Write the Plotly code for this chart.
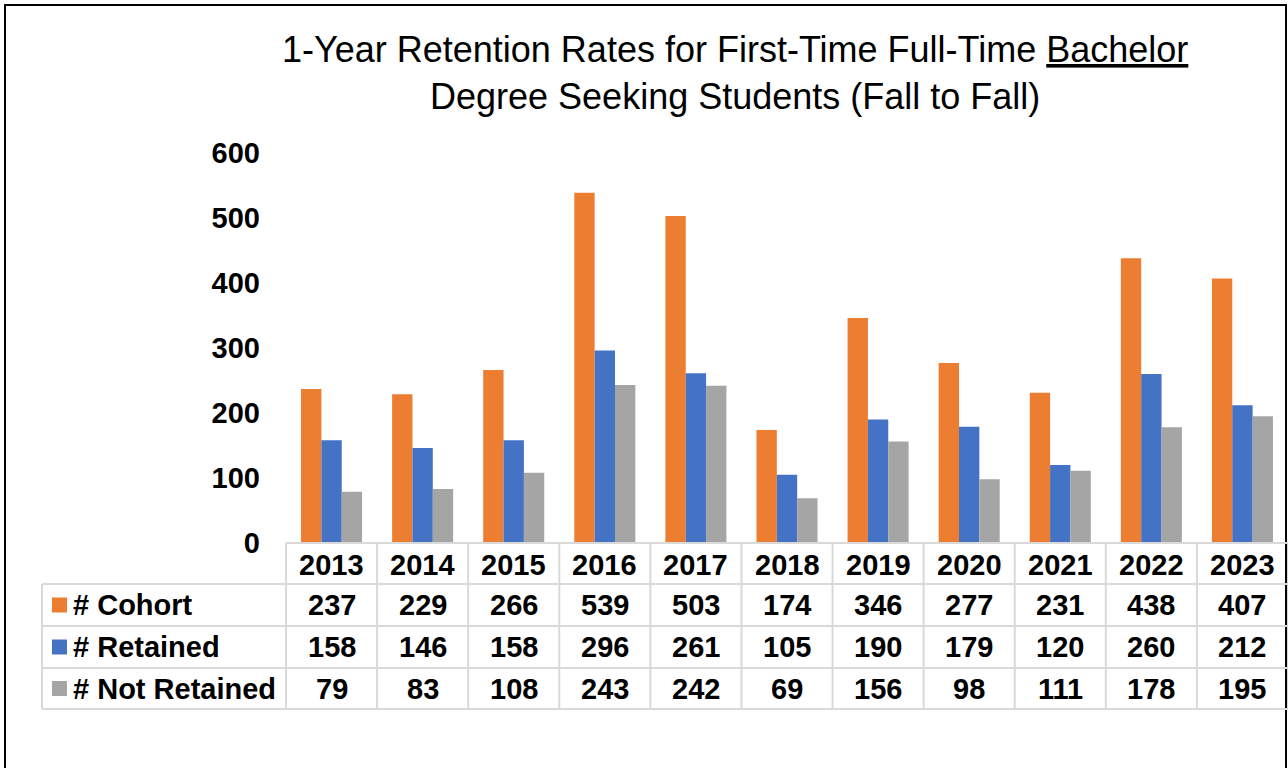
import plotly.graph_objects as go

years = ["2013", "2014", "2015", "2016", "2017", "2018", "2019", "2020", "2021", "2022", "2023"]
cohort = [237, 229, 266, 539, 503, 174, 346, 277, 231, 438, 407]
retained = [158, 146, 158, 296, 261, 105, 190, 179, 120, 260, 212]
not_retained = [79, 83, 108, 243, 242, 69, 156, 98, 111, 178, 195]

series_names = ["# Cohort", "# Retained", "# Not Retained"]
series_values = [cohort, retained, not_retained]
series_colors = ["#ED7D31", "#4472C4", "#A5A5A5"]

W, H = 1288, 768
L, R, T, B = 286, 1288, 153, 543
FONT = "Arial, Liberation Sans, sans-serif"
GRID = "#D9D9D9"


def pxx(p):
    return (p - L) / (R - L)


def pxy(p):
    return (B - p) / (B - T)


fig = go.Figure()
for name, vals, col in zip(series_names, series_values, series_colors):
    fig.add_trace(go.Bar(x=years, y=vals, name=name, marker=dict(color=col, line=dict(width=0)),
                         showlegend=False))

shapes = []
annotations = []

# outer frame
shapes.append(dict(type="rect", xref="paper", yref="paper", x0=pxx(5), x1=pxx(1286), y0=pxy(790), y1=pxy(5),
                   line=dict(color="black", width=2), fillcolor="rgba(0,0,0,0)", layer="above"))

# table geometry (pixel rows)
row_edges = [543, 584, 626, 668, 709]
label_left = 42
n = len(years)

# horizontal lines
shapes.append(dict(type="line", xref="paper", yref="paper", x0=0, x1=1, y0=pxy(row_edges[0]), y1=pxy(row_edges[0]),
                   line=dict(color=GRID, width=2)))
for e in row_edges[1:]:
    shapes.append(dict(type="line", xref="paper", yref="paper", x0=pxx(label_left), x1=1, y0=pxy(e), y1=pxy(e),
                       line=dict(color=GRID, width=2)))
# vertical lines for year columns
for k in range(n + 1):
    shapes.append(dict(type="line", xref="paper", yref="paper", x0=k / n, x1=k / n,
                       y0=pxy(row_edges[0]), y1=pxy(row_edges[-1]), line=dict(color=GRID, width=2)))
# label column left border
shapes.append(dict(type="line", xref="paper", yref="paper", x0=pxx(label_left), x1=pxx(label_left),
                   y0=pxy(row_edges[1]), y1=pxy(row_edges[-1]), line=dict(color=GRID, width=2)))

cell_font = dict(family=FONT, size=29, color="black")
# header years (x given as category index)
for i, yr in enumerate(years):
    annotations.append(dict(x=i, xref="x", y=pxy((row_edges[0] + row_edges[1]) / 2 + 1), yref="paper",
                            text="<b>%s</b>" % yr, showarrow=False, font=cell_font,
                            xanchor="center", yanchor="middle"))
# data rows
for r, (name, vals, col) in enumerate(zip(series_names, series_values, series_colors)):
    yc = (row_edges[r + 1] + row_edges[r + 2]) / 2
    shapes.append(dict(type="rect", xref="paper", yref="paper", x0=pxx(52), x1=pxx(67),
                       y0=pxy(yc + 7.5), y1=pxy(yc - 7.5), fillcolor=col, line=dict(width=0)))
    annotations.append(dict(x=pxx(71), xref="paper", y=pxy(yc), yref="paper", text="<b>%s</b>" % name,
                            showarrow=False, font=cell_font, xanchor="left", yanchor="middle"))
    for i, v in enumerate(vals):
        annotations.append(dict(x=i, xref="x", y=pxy(yc), yref="paper", text="<b>%d</b>" % v,
                                showarrow=False, font=cell_font, xanchor="center", yanchor="middle"))

# title
annotations.append(dict(x=pxx(735), xref="paper", y=pxy(73), yref="paper",
                        text="1-Year Retention Rates for First-Time Full-Time <u>Bachelor</u><br>Degree Seeking Students (Fall to Fall)",
                        showarrow=False, font=dict(family=FONT, size=36, color="black"),
                        xanchor="center", yanchor="middle"))

fig.update_layout(
    width=W, height=H,
    margin=dict(l=L, r=W - R, t=T, b=H - B, pad=0),
    paper_bgcolor="white", plot_bgcolor="white",
    barmode="group", bargap=0.33, bargroupgap=0,
    shapes=shapes, annotations=annotations,
    font=dict(family=FONT),
    xaxis=dict(type="category", categoryorder="array", categoryarray=years, range=[-0.5, n - 0.5],
               showticklabels=False, showgrid=False, zeroline=False, showline=False, ticks=""),
    yaxis=dict(range=[0, 600], dtick=100, showgrid=False, zeroline=False, showline=False, ticks="",
               tickfont=dict(family=FONT, size=29, color="black", weight="bold"),
               ticklabelstandoff=25),
)

fig.write_html("out.html", config={"displayModeBar": False},
               post_script="document.body.style.margin='0';document.body.style.overflow='hidden';")
